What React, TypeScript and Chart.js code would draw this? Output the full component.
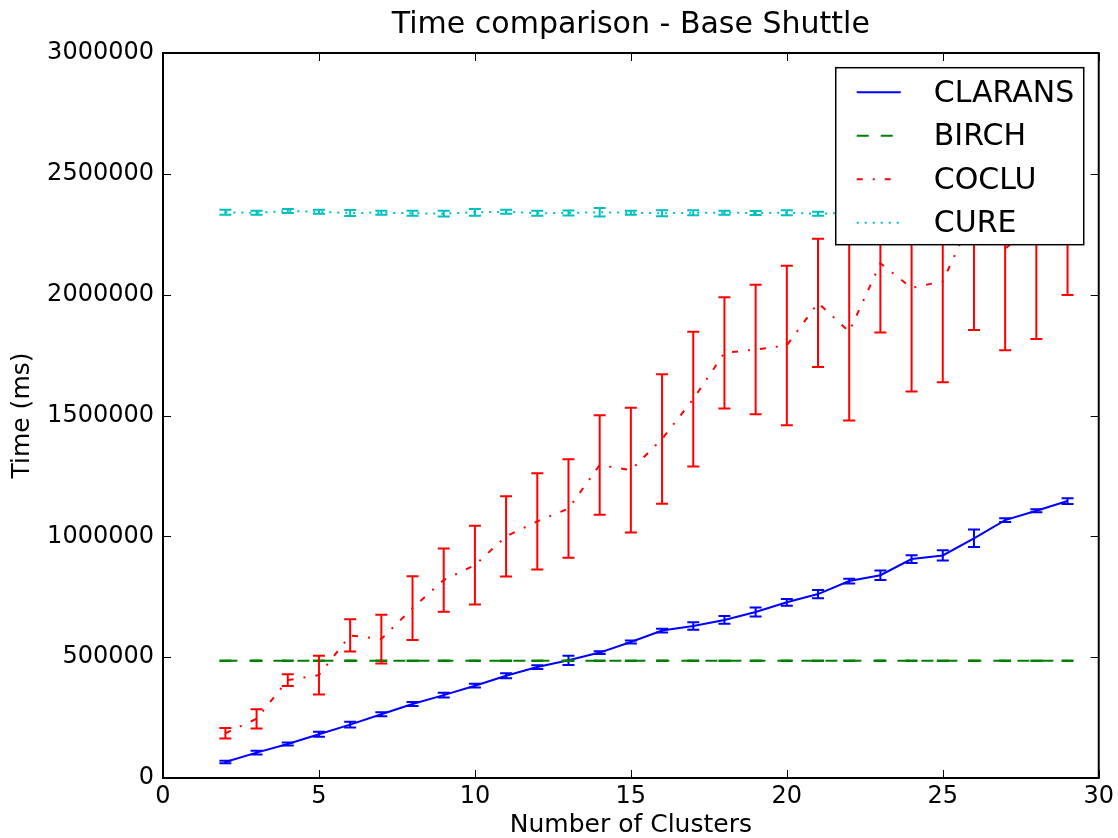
import React, { useEffect, useRef } from "react";
import { Chart, registerables } from "chart.js";

Chart.register(...registerables);

const clusters = [2, 3, 4, 5, 6, 7, 8, 9, 10, 11, 12, 13, 14, 15, 16, 17, 18, 19, 20, 21, 22, 23, 24, 25, 26, 27, 28, 29];

const claransTime = [66000, 105000, 141000, 181000, 221000, 264000, 306000, 343000, 382000, 423000, 459000, 487000, 519000, 563000, 610000, 629000, 654000, 687000, 727000, 761000, 815000, 839000, 906000, 921000, 992000, 1067000, 1106000, 1146000];
const claransErr = [5000, 8000, 6000, 10000, 12000, 8000, 8000, 10000, 8000, 10000, 8000, 19000, 6000, 6000, 8000, 16000, 16000, 19000, 14000, 17000, 10000, 20000, 16000, 21000, 36000, 8000, 6000, 12000];

const birchTime = [485000, 485000, 485000, 485000, 485000, 485000, 485000, 485000, 485000, 485000, 485000, 485000, 485000, 485000, 485000, 485000, 485000, 485000, 485000, 485000, 485000, 485000, 485000, 485000, 485000, 485000, 485000, 485000];
const birchErr = [1000, 1000, 1000, 1000, 1000, 1000, 1000, 1000, 1000, 1000, 1000, 1000, 1000, 1000, 1000, 1000, 1000, 1000, 1000, 1000, 1000, 1000, 1000, 1000, 1000, 1000, 1000, 1000];

const cocluTime = [185000, 245000, 405000, 426000, 590000, 575000, 703000, 819000, 881000, 1000000, 1062000, 1115000, 1295000, 1274000, 1403000, 1568000, 1759000, 1773000, 1790000, 1966000, 1847000, 2130000, 2028000, 2055000, 2336000, 2190000, 2300000, 2400000];
const cocluErr = [22000, 40000, 24000, 80000, 67000, 101000, 132000, 131000, 163000, 166000, 199000, 204000, 206000, 258000, 268000, 279000, 230000, 268000, 330000, 265000, 368000, 287000, 429000, 417000, 482000, 420000, 483000, 401000];

const cureTime = [2341000, 2339000, 2346000, 2343000, 2338000, 2339000, 2337000, 2335000, 2341000, 2343000, 2337000, 2338000, 2341000, 2339000, 2337000, 2339000, 2339000, 2338000, 2339000, 2335000, 2338000, 2339000, 2337000, 2340000, 2338000, 2339000, 2338000, 2340000];
const cureErr = [10000, 8000, 8000, 8000, 12000, 8000, 10000, 12000, 14000, 8000, 10000, 10000, 18000, 8000, 12000, 10000, 8000, 8000, 10000, 8000, 10000, 10000, 10000, 10000, 10000, 10000, 10000, 10000];

const seriesNames = ["CLARANS", "BIRCH", "COCLU", "CURE"];
const seriesColors = ["#0000ff", "#008000", "#ff0000", "#00bfbf"];
const seriesDashes: number[][] = [[], [12, 12], [6, 10, 2, 10], [2, 6]];
const seriesValues = [claransTime, birchTime, cocluTime, cureTime];
const seriesErrors = [claransErr, birchErr, cocluErr, cureErr];

const chartTitle = "Time comparison - Base Shuttle";
const xLabel = "Number of Clusters";
const yLabel = "Time (ms)";
const FONT = "'DejaVu Sans', sans-serif";

const errorBarPlugin = {
  id: "errorBars",
  afterDatasetDraw(chart: any, args: any) {
    const errs = seriesErrors[args.index];
    const vals = seriesValues[args.index];
    if (!errs) return;
    const { ctx, chartArea, scales } = chart;
    const xs = scales.x;
    const ys = scales.y;
    ctx.save();
    ctx.beginPath();
    ctx.rect(chartArea.left, chartArea.top, chartArea.right - chartArea.left, chartArea.bottom - chartArea.top);
    ctx.clip();
    ctx.strokeStyle = seriesColors[args.index];
    ctx.lineWidth = 2;
    ctx.setLineDash([]);
    for (let i = 0; i < vals.length; i++) {
      const px = xs.getPixelForValue(clusters[i]);
      const top = ys.getPixelForValue(vals[i] + errs[i]);
      const bot = ys.getPixelForValue(vals[i] - errs[i]);
      ctx.beginPath();
      ctx.moveTo(px, top);
      ctx.lineTo(px, bot);
      ctx.moveTo(px - 6, top);
      ctx.lineTo(px + 6, top);
      ctx.moveTo(px - 6, bot);
      ctx.lineTo(px + 6, bot);
      ctx.stroke();
    }
    ctx.restore();
  },
};

const framePlugin = {
  id: "frameTicks",
  afterDatasetsDraw(chart: any) {
    const { ctx, chartArea: ca, scales } = chart;
    ctx.save();
    ctx.setLineDash([]);
    ctx.strokeStyle = "#000";
    ctx.lineWidth = 1;
    ctx.beginPath();
    scales.x.ticks.forEach((t: any) => {
      const px = Math.round(scales.x.getPixelForValue(t.value)) + 0.5;
      ctx.moveTo(px, ca.bottom);
      ctx.lineTo(px, ca.bottom - 8);
      ctx.moveTo(px, ca.top);
      ctx.lineTo(px, ca.top + 8);
    });
    scales.y.ticks.forEach((t: any) => {
      const py = Math.round(scales.y.getPixelForValue(t.value)) + 0.5;
      ctx.moveTo(ca.left, py);
      ctx.lineTo(ca.left + 8, py);
      ctx.moveTo(ca.right, py);
      ctx.lineTo(ca.right - 8, py);
    });
    ctx.stroke();
    ctx.lineWidth = 2;
    ctx.strokeRect(ca.left, ca.top, ca.right - ca.left, ca.bottom - ca.top);
    ctx.restore();
  },
  afterDraw(chart: any) {
    const { ctx, chartArea: ca } = chart;
    const w = 248;
    const h = 177;
    const lx = ca.right - 15 - w;
    const ly = ca.top + 14.7;
    ctx.save();
    ctx.fillStyle = "#fff";
    ctx.fillRect(lx, ly, w, h);
    ctx.strokeStyle = "#000";
    ctx.lineWidth = 1.5;
    ctx.setLineDash([]);
    ctx.strokeRect(lx, ly, w, h);
    ctx.font = `30px ${FONT}`;
    ctx.textBaseline = "middle";
    ctx.textAlign = "left";
    for (let i = 0; i < seriesNames.length; i++) {
      const y = ly + 24.5 + i * 43.5;
      ctx.strokeStyle = seriesColors[i];
      ctx.lineWidth = 2;
      ctx.setLineDash(seriesDashes[i]);
      ctx.beginPath();
      ctx.moveTo(lx + 21, y);
      ctx.lineTo(lx + 65, y);
      ctx.stroke();
      ctx.fillStyle = "#000";
      ctx.fillText(seriesNames[i], lx + 98, y + 2);
    }
    ctx.restore();
  },
};

export default function App() {
  const ref = useRef<HTMLCanvasElement | null>(null);

  useEffect(() => {
    if (!ref.current) return;
    const order = [4, 3, 2, 1];
    const chart = new Chart(ref.current, {
      type: "line",
      data: {
        datasets: seriesNames.map((name, i) => ({
          label: name,
          data: clusters.map((c, j) => ({ x: c, y: seriesValues[i][j] })),
          borderColor: seriesColors[i],
          backgroundColor: seriesColors[i],
          borderWidth: 2,
          borderDash: seriesDashes[i],
          pointRadius: 0,
          tension: 0,
          fill: false,
          order: order[i],
        })),
      },
      options: {
        responsive: false,
        animation: false,
        devicePixelRatio: 1,
        layout: { padding: { left: 0, right: 18, top: 0, bottom: 0 } },
        plugins: {
          legend: { display: false },
          tooltip: { enabled: false },
          title: {
            display: true,
            text: chartTitle,
            fullSize: false,
            color: "#000",
            font: { family: FONT, size: 30, weight: "normal", lineHeight: 1.2 },
            padding: { top: 7.5, bottom: 9.5 },
          },
        },
        scales: {
          x: {
            type: "linear",
            min: 0,
            max: 30,
            grid: { display: false, drawTicks: false },
            border: { display: false },
            ticks: {
              stepSize: 5,
              color: "#000",
              padding: 4,
              font: { family: FONT, size: 24 },
              callback: (v: any) => String(v),
              maxRotation: 0,
            },
            title: {
              display: true,
              text: xLabel,
              color: "#000",
              font: { family: FONT, size: 25, lineHeight: 1 },
              padding: { top: 0, bottom: 0 },
            },
            afterFit: (s: any) => {
              s.height = 60;
            },
          },
          y: {
            type: "linear",
            min: 0,
            max: 3000000,
            grid: { display: false, drawTicks: false },
            border: { display: false },
            ticks: {
              stepSize: 500000,
              color: "#000",
              padding: 9,
              font: { family: FONT, size: 24 },
              callback: (v: any) => String(v),
            },
            title: {
              display: true,
              text: yLabel,
              color: "#000",
              font: { family: FONT, size: 25, lineHeight: 1.2 },
              padding: { top: 7.5, bottom: 0 },
            },
            afterFit: (s: any) => {
              s.width = 163;
            },
          },
        },
      },
      plugins: [errorBarPlugin, framePlugin],
    } as any);
    return () => chart.destroy();
  }, []);

  return (
    <div style={{ position: "fixed", left: 0, top: 0, width: 1118, height: 838, background: "#fff" }}>
      <canvas ref={ref} width={1118} height={838} style={{ display: "block" }} />
    </div>
  );
}
